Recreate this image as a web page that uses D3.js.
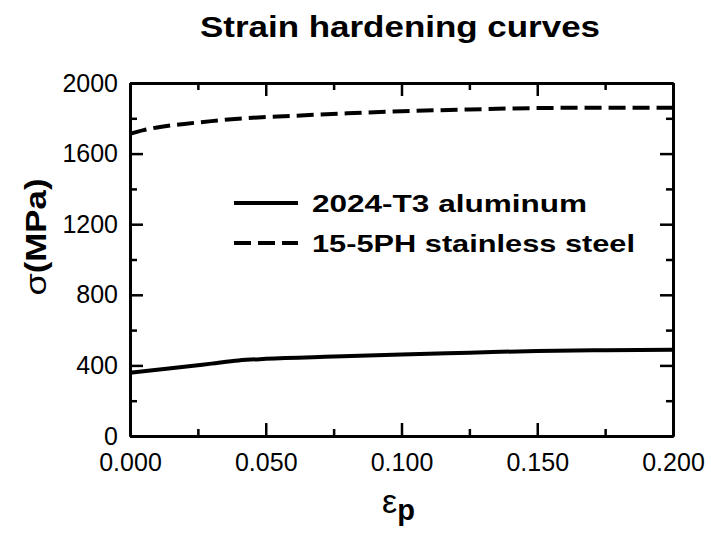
<!DOCTYPE html>
<html>
<head>
<meta charset="utf-8">
<script src="https://cdn.jsdelivr.net/npm/d3@7"></script>
<style>
  html, body { margin: 0; padding: 0; background: #fff; }
  svg { display: block; font-family: Arial, "Liberation Sans", sans-serif; }
</style>
</head>
<body>
<svg id="chart" width="711" height="541"></svg>
<script>
// Plastic strain (εp) sample points
const strainAl = [0, 0.01, 0.02, 0.03, 0.04, 0.05, 0.075, 0.1, 0.125, 0.15, 0.175, 0.2];
// Flow stress of 2024-T3 aluminum, MPa
const stressAl = [358, 375, 392, 410, 428, 437, 450, 462, 472, 482, 486, 488];
const strainSt = [0, 0.005, 0.01, 0.02, 0.03, 0.04, 0.06, 0.08, 0.1, 0.125, 0.15, 0.175, 0.2];
// Flow stress of 15-5PH stainless steel, MPa
const stressSt = [1712, 1733, 1748, 1768, 1784, 1798, 1814, 1828, 1840, 1850, 1858, 1860, 1860];

const xTicks = [0, 0.05, 0.1, 0.15, 0.2];
const xMinor = [0.025, 0.075, 0.125, 0.175];
const yTicks = [0, 400, 800, 1200, 1600, 2000];
const yMinor = [200, 600, 1000, 1400, 1800];
const seriesNames = ["2024-T3 aluminum", "15-5PH stainless steel"];

const svg = d3.select("#chart");
const L = 130, R = 673, T = 83, B = 436;

const x = d3.scaleLinear().domain([0, 0.2]).range([L, R]);
const y = d3.scaleLinear().domain([0, 2000]).range([B, T]);

// Curves
const line = d3.line().x(d => x(d[0])).y(d => y(d[1])).curve(d3.curveMonotoneX);
const g = svg.append("g");
g.append("path")
  .datum(d3.zip(strainAl, stressAl))
  .attr("d", line).attr("fill", "none").attr("stroke", "#000").attr("stroke-width", 4);
g.append("path")
  .datum(d3.zip(strainSt, stressSt))
  .attr("d", line).attr("fill", "none").attr("stroke", "#000").attr("stroke-width", 4)
  .attr("stroke-dasharray", "17 7");

// Frame with inward ticks on all four sides
function axisSet(axisFn, scale, major, minor, transform, labels) {
  const a = axisFn(scale).tickValues(major).tickSizeInner(-13).tickSizeOuter(0)
    .tickPadding(13);
  if (labels) a.tickFormat(labels); else a.tickFormat("");
  const ga = svg.append("g").attr("transform", transform).call(a);
  const m = axisFn(scale).tickValues(minor).tickSizeInner(-7).tickSizeOuter(0).tickFormat("");
  const gm = svg.append("g").attr("transform", transform).call(m);
  [ga, gm].forEach(s => {
    s.select(".domain").attr("stroke", "#000").attr("stroke-width", 3);
    s.selectAll(".tick line").attr("stroke", "#000").attr("stroke-width", 2.5);
  });
  return ga;
}
const gx = axisSet(d3.axisBottom, x, xTicks, xMinor, `translate(0,${B})`, d3.format(".3f"));
axisSet(d3.axisTop, x, xTicks, xMinor, `translate(0,${T})`, null);
const gy = axisSet(d3.axisLeft, y, yTicks, yMinor, `translate(${L},0)`, d3.format("d"));
axisSet(d3.axisRight, y, yTicks, yMinor, `translate(${R},0)`, null);

gx.selectAll(".tick text").attr("font-size", 25).attr("fill", "#000")
  .attr("font-family", "Arial, 'Liberation Sans', sans-serif").attr("dy", "0.78em")
  .attr("y", 15);
gy.selectAll(".tick text").attr("font-size", 25).attr("fill", "#000")
  .attr("font-family", "Arial, 'Liberation Sans', sans-serif").attr("x", -12);

// Title
svg.append("text").attr("x", 400).attr("y", 37).attr("text-anchor", "middle")
  .attr("font-size", 30).attr("font-weight", "bold")
  .attr("textLength", 400).attr("lengthAdjust", "spacingAndGlyphs")
  .text("Strain hardening curves");

// Axis titles
const xt = svg.append("text").attr("x", 382).attr("y", 513);
xt.append("tspan").attr("font-size", 34).text("ε");
xt.append("tspan").attr("font-size", 29).attr("font-weight", "bold").attr("dy", 7).text("p");

const yt = svg.append("text").attr("transform", "translate(46,237) rotate(-90)")
  .attr("text-anchor", "middle")
  .attr("textLength", 117).attr("lengthAdjust", "spacingAndGlyphs");
yt.append("tspan").attr("font-size", 30).text("σ");
yt.append("tspan").attr("font-size", 29).attr("font-weight", "bold").text("(MPa)");

// Legend
const legLen = [275, 323];
const leg = svg.append("g");
seriesNames.forEach((name, i) => {
  const yy = 203 + i * 40;
  leg.append("line").attr("x1", 234).attr("x2", 298).attr("y1", yy).attr("y2", yy)
    .attr("stroke", "#000").attr("stroke-width", 4)
    .attr("stroke-dasharray", i === 1 ? "17 7" : null);
  leg.append("text").attr("x", 312).attr("y", yy + 9).attr("font-size", 24)
    .attr("font-weight", "bold")
    .attr("textLength", legLen[i]).attr("lengthAdjust", "spacingAndGlyphs")
    .text(name);
});
</script>
</body>
</html>
